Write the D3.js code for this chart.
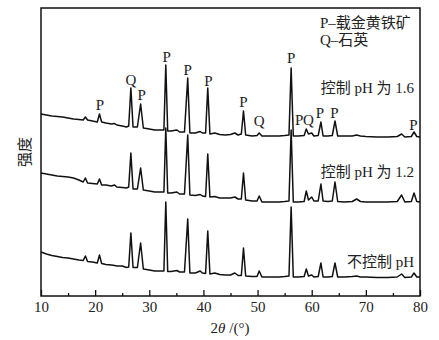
<!DOCTYPE html>
<html>
  <head>
    <meta charset="utf-8">
    <script src="https://cdn.jsdelivr.net/npm/d3@7"></script>
    <style>
      body { margin: 0; background: #fff; }
      text { font-family: "Liberation Serif", "Noto Sans CJK SC", serif; fill: #222; }
    </style>
  </head>
  <body>
    <script>

      // diffraction angles (2theta, degrees), shared by the three patterns
      var angles = [10, 11, 12, 13, 14, 15, 16, 17, 17.8, 18.2, 18.6, 19.5, 20.4, 20.8, 21.2,
        22, 23, 23.6, 24, 25, 25.8, 26.2, 26.6, 27.0, 27.8, 28.4, 28.9, 30, 31, 32, 32.7,
        33.05, 33.4, 34, 35.1, 35.6, 36.5, 37.1, 37.5, 38.5, 39.4, 39.8, 40.4, 40.8, 41.2,
        42.1, 43, 44, 45, 45.8, 46.4, 47.0, 47.4, 47.8, 49, 49.9, 50.3, 50.8, 52, 54, 55,
        55.8, 56.2, 56.6, 57.5, 58.6, 59.0, 59.4, 60.0, 60.4, 61.2, 61.7, 62.1, 63, 63.8,
        64.3, 64.8, 66, 67.5, 68.3, 69, 70, 72, 74, 75.8, 76.6, 77.2, 78.4, 78.9, 79.4, 80];

      // intensity (arbitrary units, stacked) - pH 1.6
      var ph16 = [182, 181, 180, 179.5, 179, 178, 177, 176.5, 176, 179, 176, 175, 174, 182, 174,
        173, 172, 172.5, 171, 170, 169, 170, 208, 169, 169, 192, 168, 167, 166, 166, 166,
        231, 165, 165, 166, 164, 164, 218, 163, 163, 164.5, 163, 163, 208, 162,
        163, 161.5, 161, 161.5, 163, 161, 162, 185, 161, 160, 160.5, 163, 160, 160, 160, 160.5,
        161, 228, 160, 160, 160.5, 167, 162, 163, 160, 160.5, 174, 160, 160, 160.5,
        175, 160, 160, 160, 161, 160, 159.5, 159, 159, 159.5, 162, 159, 159.5, 164, 159.5, 159];

      // pH 1.2
      var ph12 = [123, 122, 121, 120, 119.5, 119, 118, 116, 114, 118, 113, 112.5, 112, 117, 111,
        111, 110, 111, 109, 108.5, 108, 109, 143, 107, 107, 128, 106, 105, 104, 104, 104,
        168, 103, 103, 104, 102, 102, 161, 101, 100.5, 101.5, 100, 99.5, 142, 99,
        99.5, 98, 98, 98, 99, 97, 97, 123, 96, 95, 95, 100, 94, 94, 94, 94.5,
        95, 166, 94, 94, 94.5, 105, 96, 99, 95, 95, 112, 95, 94.5, 95,
        114, 94.5, 94, 94.5, 97, 94.5, 94, 94, 94, 94.5, 101, 94, 94.5, 103, 94.5, 94];

      // no pH control
      var phNone = [44, 42, 40.5, 39.5, 38.5, 38, 37, 36, 35.5, 40, 34.5, 34, 33, 41, 32.5,
        31.5, 31, 30.5, 30, 30, 28.5, 29, 63, 28.5, 28.5, 53, 27, 26, 25, 25, 25,
        94, 24.5, 24.5, 25.5, 24, 24, 77, 23, 23, 25, 23, 22.5, 65, 22,
        23, 21.5, 21, 21, 23, 20.5, 20.5, 48, 20, 19.5, 19.5, 25, 19, 19, 19, 19.5,
        20, 89, 19, 19, 19.5, 27, 20, 21, 19, 19.5, 33, 19, 19, 19.5,
        33, 19, 19, 19.5, 20, 19, 19, 18.5, 18.5, 19, 22, 18.5, 19, 23, 19, 19];

      // peak labels: angle, text, height of label baseline
      var labelAngles = [20.9, 26.6, 28.6, 33.2, 37.1, 40.9, 47.4, 50.3, 56.2, 57.7, 59.4, 61.5, 64.2, 78.8];
      var labelTexts = ["P", "Q", "P", "P", "P", "P", "P", "Q", "P", "P", "Q", "P", "P", "P"];
      var labelLevels = [186, 211, 196, 234, 221, 210, 189, 170, 233, 171, 171, 178, 178, 166];

      var xTicks = [10, 20, 30, 40, 50, 60, 70, 80];
      var xMinor = [15, 25, 35, 45, 55, 65, 75];

      var w = 439, h = 340;
      var margin = {top: 8, right: 19, bottom: 44, left: 41};

      var svg = d3.select("body")
        .append("svg")
        .attr("width", w)
        .attr("height", h);

      var x = d3.scaleLinear()
        .domain([10, 80])
        .range([margin.left, w - margin.right]);

      var y = d3.scaleLinear()
        .domain([0, 288])
        .range([h - margin.bottom, margin.top]);

      // traces
      var line = d3.line()
        .x(function(d) { return x(d[0]); })
        .y(function(d) { return y(d[1]); });

      [ph16, ph12, phNone].forEach(function(series) {
        svg.append("path")
          .datum(d3.zip(angles, series))
          .attr("fill", "none")
          .attr("stroke", "#111")
          .attr("stroke-width", 1.5)
          .attr("stroke-linejoin", "round")
          .attr("d", line);
      });

      // peak labels
      svg.selectAll(".peak")
        .data(labelAngles)
        .enter()
        .append("text")
        .attr("class", "peak")
        .attr("x", function(d) { return x(d); })
        .attr("y", function(d, i) { return y(labelLevels[i]); })
        .attr("text-anchor", "middle")
        .style("font-size", "15px")
        .text(function(d, i) { return labelTexts[i]; });

      // x axis, ticks pointing inward
      var axis = svg.append("g")
        .attr("transform", "translate(0," + (h - margin.bottom) + ")")
        .call(d3.axisBottom(x).tickValues(xTicks).tickSize(-6).tickPadding(5));
      axis.select(".domain").remove();
      axis.selectAll("line").attr("stroke", "#111").attr("stroke-width", 1.3);
      axis.selectAll("text")
        .style("font-size", "15px")
        .style("font-family", "Liberation Serif")
        .attr("fill", "#222");

      var minor = svg.append("g")
        .attr("transform", "translate(0," + (h - margin.bottom) + ")")
        .call(d3.axisBottom(x).tickValues(xMinor).tickSize(-3).tickFormat(""));
      minor.select(".domain").remove();
      minor.selectAll("line").attr("stroke", "#111").attr("stroke-width", 1.3);

      // frame
      svg.append("rect")
        .attr("x", margin.left)
        .attr("y", margin.top)
        .attr("width", w - margin.left - margin.right)
        .attr("height", h - margin.top - margin.bottom)
        .attr("fill", "none")
        .attr("stroke", "#111")
        .attr("stroke-width", 1.5);

      // x axis title
      var xt = svg.append("text")
        .attr("x", 230)
        .attr("y", 333)
        .attr("text-anchor", "middle")
        .style("font-size", "15px");
      xt.append("tspan").text("2");
      xt.append("tspan").style("font-style", "italic").text("θ");
      xt.append("tspan").text(" /(°)");

      // y axis title
      svg.append("text")
        .attr("transform", "translate(30,152) rotate(-90)")
        .attr("text-anchor", "middle")
        .style("font-size", "15px")
        .text("强度");

      // legend
      svg.append("text")
        .attr("x", 320).attr("y", 28)
        .style("font-size", "15px")
        .text("P–载金黄铁矿");
      svg.append("text")
        .attr("x", 320).attr("y", 45)
        .style("font-size", "15px")
        .text("Q–石英");

      // series names
      var names = ["控制 pH 为 1.6", "控制 pH 为 1.2", "不控制 pH"];
      var nameY = [93, 177, 267];
      svg.selectAll(".name")
        .data(names)
        .enter()
        .append("text")
        .attr("class", "name")
        .attr("x", 414)
        .attr("y", function(d, i) { return nameY[i]; })
        .attr("text-anchor", "end")
        .style("font-size", "15px")
        .text(function(d) { return d; });

    </script>
  </body>
</html>
